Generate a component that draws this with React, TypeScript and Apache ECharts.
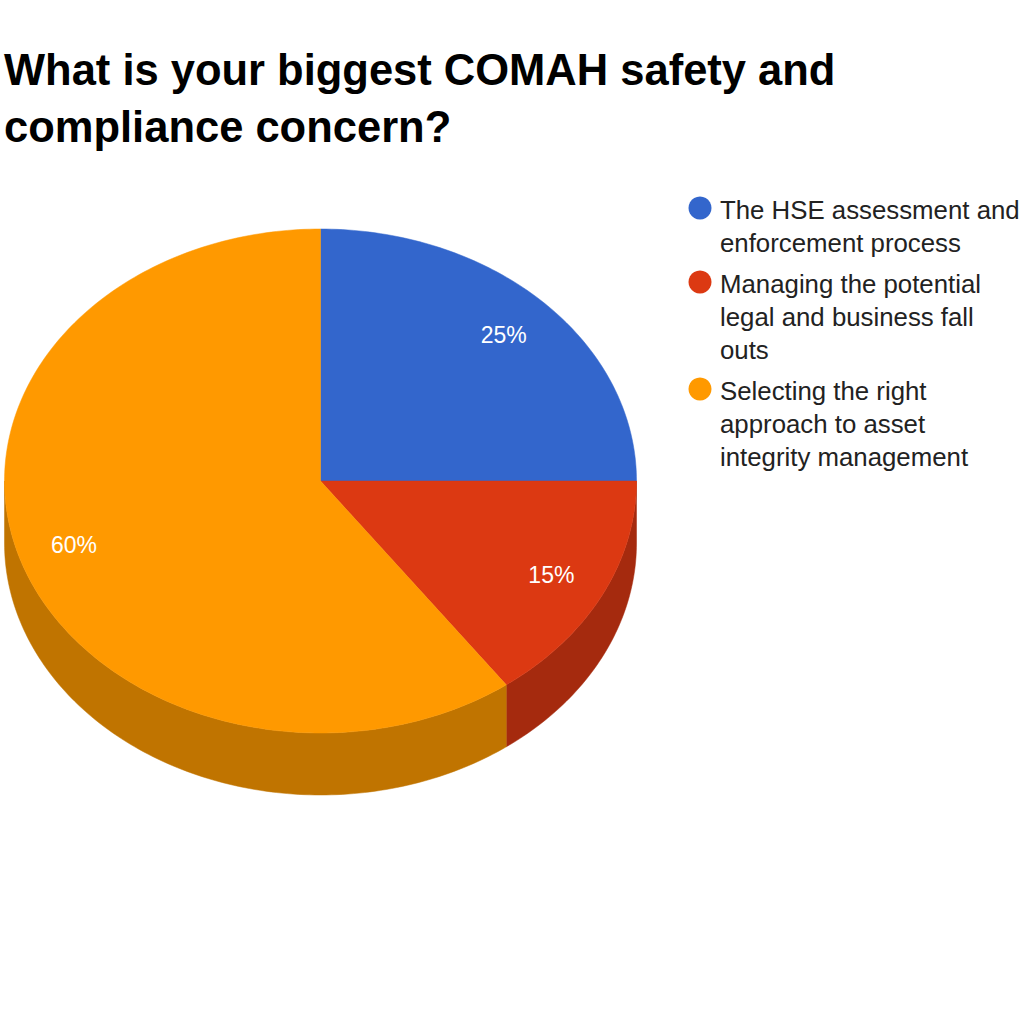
import React, { useEffect, useRef } from "react";
import * as echarts from "echarts";

const titleLines = ["What is your biggest COMAH safety and", "compliance concern?"];
const categories = [
  "The HSE assessment and enforcement process",
  "Managing the potential legal and business fall outs",
  "Selecting the right approach to asset integrity management",
];
const legendLines = [
  ["The HSE assessment and", "enforcement process"],
  ["Managing the potential", "legal and business fall", "outs"],
  ["Selecting the right", "approach to asset", "integrity management"],
];
const values = [25, 15, 60];
const topColors = ["#3366CC", "#DC3912", "#FF9900"];
const sideColors = ["#264D99", "#A52A0E", "#C07400"];

const CX = 320.5;
const CY = 481;
const RX = 316;
const RY = 252;
const DEPTH = 62;
const LABEL_R = 0.82;

const total = values.reduce((a, b) => a + b, 0);

function pt(theta: number, dy = 0): number[] {
  return [CX + RX * Math.cos(theta), CY + RY * Math.sin(theta) + dy];
}

function arcPoints(a: number, b: number, dy = 0): number[][] {
  const n = Math.max(2, Math.ceil(((b - a) / (Math.PI * 2)) * 360));
  const pts: number[][] = [];
  for (let i = 0; i <= n; i++) pts.push(pt(a + ((b - a) * i) / n, dy));
  return pts;
}

export default function App() {
  const ref = useRef<HTMLDivElement>(null);
  useEffect(() => {
    if (!ref.current) return;
    const chart = echarts.init(ref.current, null, { renderer: "svg" });

    const renderItem = (params: any, api: any) => {
      const i = params.dataIndex;
      const v = api.value(0);
      let before = 0;
      for (let k = 0; k < i; k++) before += values[k];
      const a = -Math.PI / 2 + (2 * Math.PI * before) / total;
      const b = a + (2 * Math.PI * v) / total;
      const children: any[] = [];
      const s = Math.max(a, 0);
      const e = Math.min(b, Math.PI);
      if (e > s) {
        const topArc = arcPoints(s, e);
        const botArc = arcPoints(s, e, DEPTH).reverse();
        children.push({
          type: "polygon",
          z2: 1,
          shape: { points: topArc.concat(botArc) },
          style: { fill: sideColors[i], stroke: sideColors[i], lineWidth: 0.5 },
        });
      }
      const top = [[CX, CY]].concat(arcPoints(a, b));
      children.push({
        type: "polygon",
        z2: 10,
        shape: { points: top },
        style: { fill: topColors[i], stroke: topColors[i], lineWidth: 0.5 },
      });
      const mid = (a + b) / 2;
      children.push({
        type: "text",
        z2: 20,
        style: {
          text: v + "%",
          x: CX + RX * LABEL_R * Math.cos(mid),
          y: CY + RY * LABEL_R * Math.sin(mid),
          fill: "#ffffff",
          fontSize: 23,
          fontFamily: "Liberation Sans, Arial, sans-serif",
          textAlign: "center",
          textVerticalAlign: "middle",
        },
      });
      return { type: "group", children };
    };

    const legendGraphics: any[] = [];
    let top = 193;
    legendLines.forEach((lines, i) => {
      legendGraphics.push({
        type: "circle",
        shape: { cx: 700, cy: top + 15, r: 11.5 },
        style: { fill: topColors[i] },
      });
      legendGraphics.push({
        type: "text",
        x: 720,
        y: top,
        style: {
          text: lines.join("\n"),
          fontSize: 25.8,
          lineHeight: 33,
          fontFamily: "Liberation Sans, Arial, sans-serif",
          fill: "#222222",
          textAlign: "left",
          textVerticalAlign: "top",
        },
      });
      top += lines.length * 33 + 8;
    });

    chart.setOption({
      animation: false,
      backgroundColor: "#ffffff",
      title: {
        text: titleLines.join("\n"),
        left: 4,
        top: 41,
        padding: 0,
        textStyle: {
          fontSize: 43.5,
          fontWeight: "bold",
          lineHeight: 57,
          color: "#000000",
          fontFamily: "Liberation Sans, Arial, sans-serif",
        },
      },
      series: [
        {
          type: "custom",
          name: "Concerns",
          coordinateSystem: "none",
          renderItem,
          data: values.map((v, i) => ({ name: categories[i], value: [v] })),
        },
      ],
      graphic: legendGraphics,
    });
    return () => chart.dispose();
  }, []);
  return (
    <div
      ref={ref}
      style={{ position: "absolute", left: 0, top: 0, width: 1024, height: 1024 }}
    />
  );
}
